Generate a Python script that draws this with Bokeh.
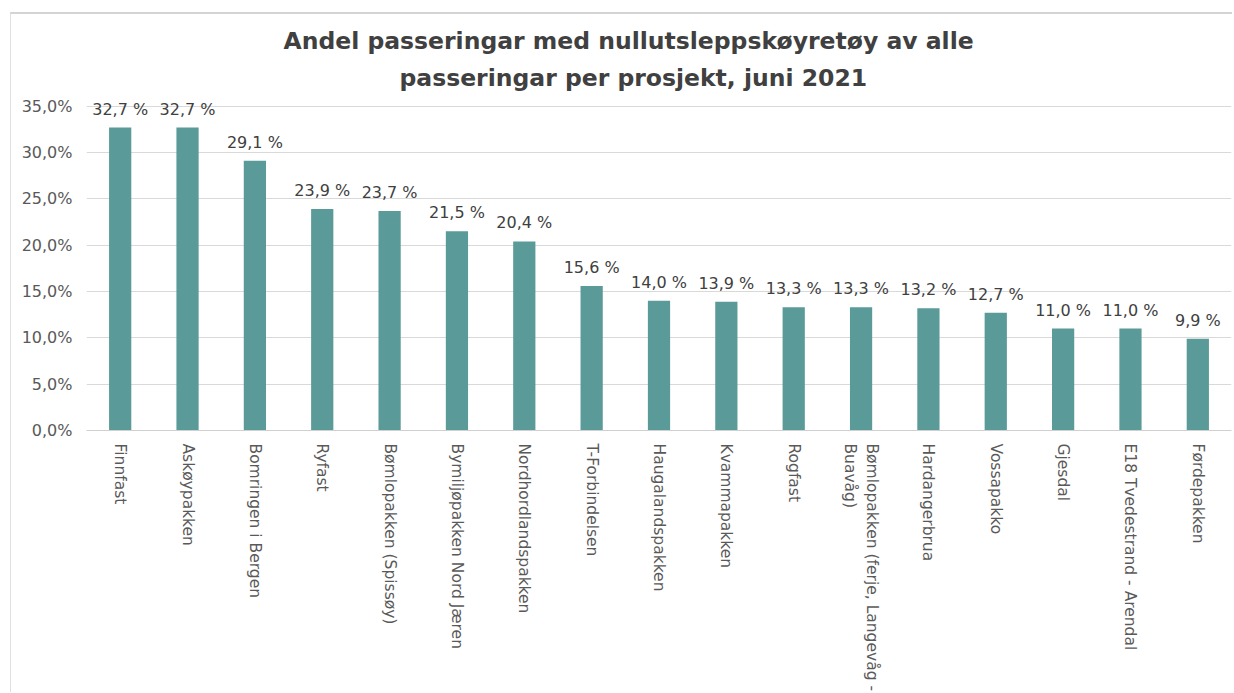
import math
from bokeh.plotting import figure
from bokeh.models import Range1d, FixedTicker, CustomJSTickFormatter, ColumnDataSource, Title
from bokeh.core.properties import value
from bokeh.embed import file_html
from bokeh.resources import INLINE

projects = [
    "Finnfast", "Askøypakken", "Bomringen i Bergen", "Ryfast", "Bømlopakken (Spissøy)",
    "Bymiljøpakken Nord Jæren", "Nordhordlandspakken", "T-Forbindelsen", "Haugalandspakken",
    "Kvammapakken", "Rogfast", "Bømlopakken (ferje, Langevåg -\nBuavåg)", "Hardangerbrua",
    "Vossapakko", "Gjesdal", "E18 Tvedestrand - Arendal", "Førdepakken",
]
shares = [32.7, 32.7, 29.1, 23.9, 23.7, 21.5, 20.4, 15.6, 14.0, 13.9, 13.3, 13.3, 13.2, 12.7, 11.0, 11.0, 9.9]
y_ticks = [0, 5, 10, 15, 20, 25, 30, 35]
title_lines = ["Andel passeringar med nullutsleppskøyretøy av alle",
               "passeringar per prosjekt, juni 2021"]

labels = [f"{v:.1f}".replace(".", ",") + " %" for v in shares]
src = ColumnDataSource(dict(x=projects, y=shares, lab=labels))

FONT = "DejaVu Sans"

p = figure(
    x_range=projects, y_range=Range1d(0, 35.4),
    width=1222, height=680, output_backend="svg", toolbar_location=None,
    min_border_left=75, min_border_right=2, min_border_top=88, min_border_bottom=256,
    styles={"border-top": "2px solid #d4d4d4", "border-left": "1px solid #e0e0e0",
            "margin-left": "10px", "margin-top": "12px"},
)
p.title = None
p.add_layout(Title(text=title_lines[1], align="left", text_font=FONT, text_font_size="23.5px",
                   text_font_style="bold", text_color="#404040", offset=313, standoff=22), "above")
p.add_layout(Title(text=title_lines[0], align="left", text_font=FONT, text_font_size="23.5px",
                   text_font_style="bold", text_color="#404040", offset=197, standoff=-8), "above")
p.outline_line_color = None
p.background_fill_color = "white"
p.border_fill_color = "white"

p.vbar(x="x", top="y", width=0.33, source=src, fill_color="#5a9a98", line_color=None)
p.text(x="x", y="y", text="lab", source=src, text_align="center", text_baseline="bottom",
       y_offset=-9, text_font=value(FONT), text_font_size="16px", text_color="#404040")

p.xgrid.grid_line_color = None
p.ygrid.grid_line_color = "#d9d9d9"
p.ygrid.ticker = FixedTicker(ticks=y_ticks)

p.yaxis.ticker = FixedTicker(ticks=y_ticks)
p.yaxis.formatter = CustomJSTickFormatter(code="return tick.toFixed(1).replace('.', ',') + '%';")
p.yaxis.axis_line_color = None
p.yaxis.major_tick_line_color = None
p.yaxis.minor_tick_line_color = None
p.yaxis.major_label_standoff = 8
p.yaxis.major_label_text_font = FONT
p.yaxis.major_label_text_font_size = "16px"
p.yaxis.major_label_text_color = "#595959"

p.xaxis.axis_line_color = "#d0d0d0"
p.xaxis.major_tick_line_color = None
p.xaxis.minor_tick_line_color = None
p.xaxis.major_label_orientation = -math.pi / 2
p.xaxis.major_label_standoff = 7
p.xaxis.major_label_text_font = FONT
p.xaxis.major_label_text_font_size = "15.5px"
p.xaxis.major_label_text_color = "#595959"
p.x_range.range_padding = 0

open("out.html", "w").write(file_html(p, INLINE))
